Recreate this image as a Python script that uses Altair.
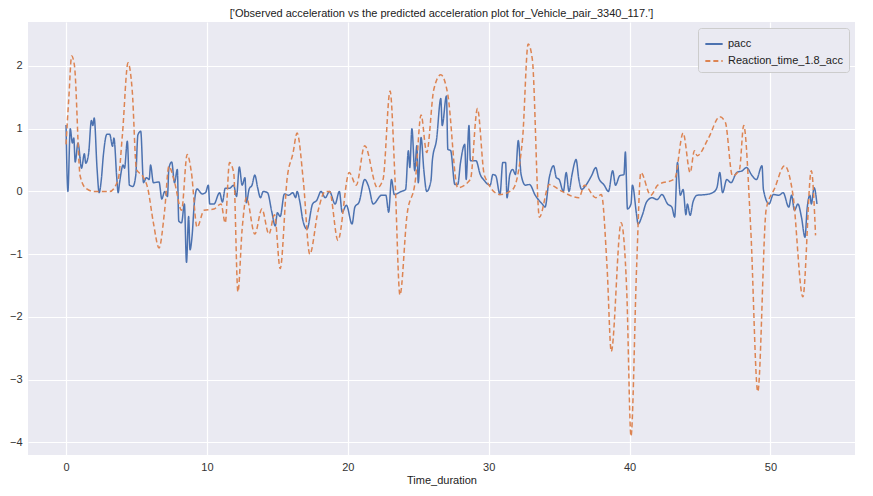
import altair as alt
import pandas as pd

# Observed acceleration (pacc)
pacc_t = [0, 0.13, 0.3, 0.45, 0.55, 0.65, 0.85, 1.1, 1.3, 1.4, 1.6, 1.8, 1.9, 2.0, 2.2, 2.35, 2.5,
          2.65, 2.9, 3.1, 3.3, 3.4, 3.6, 3.7, 3.8, 4.05, 4.15, 4.35, 4.5, 4.75, 4.95, 5.1, 5.3, 5.5,
          5.7, 5.9, 6.0, 6.2, 6.6, 6.8, 7.0, 7.2, 7.3, 7.5, 7.7, 7.9, 8.0, 8.2, 8.4, 8.55, 8.7, 8.8,
          8.95, 9.1, 9.3, 9.55, 9.65, 9.9, 10.1, 10.2, 10.5, 10.9, 11.1, 11.3, 11.6, 11.9, 12.1,
          12.3, 12.5, 12.7, 12.8, 13.0, 13.2, 13.4, 13.6, 13.8, 14.0, 14.3, 14.6, 14.85, 15.0, 15.2,
          15.5, 15.8, 16.1, 16.3, 16.4, 16.6, 16.8, 17.1, 17.5, 17.8, 18.1, 18.4, 18.7, 19.1, 19.4,
          19.6, 19.9, 20.3, 20.5, 20.8, 21.2, 21.5, 21.8, 22.4, 22.7, 22.9, 23.1, 23.3, 23.8, 24.1,
          24.3, 24.4, 24.55, 24.75, 24.9, 25.0, 25.2, 25.4, 25.6, 25.9, 26.0, 26.3, 26.6, 26.7,
          27.0, 27.1, 27.3, 27.6, 27.8, 28.0, 28.3, 28.4, 28.6, 28.7, 29.1, 29.4, 29.7, 30.1, 30.3,
          30.5, 30.8, 31.0, 31.2, 31.3, 31.5, 31.7, 31.9, 32.1, 32.3, 32.6, 32.9, 33.3, 33.8, 34.0,
          34.3, 34.6, 34.8, 35.0, 35.3, 35.5, 35.7, 35.9, 36.1, 36.2, 36.4, 36.6, 36.9, 37.3, 37.6,
          37.8, 38.2, 38.5, 38.8, 39.0, 39.3, 39.6, 39.7, 39.85, 40.1, 40.2, 40.5, 40.6, 40.9, 41.2,
          41.6, 41.95, 42.3, 42.7, 43.0, 43.2, 43.4, 43.6, 43.8, 44.0, 44.1, 44.3, 44.5, 44.8, 45.4,
          45.9, 46.2, 46.4, 46.6, 46.9, 47.2, 47.6, 48.0, 48.3, 48.7, 49.0, 49.4, 49.5, 49.9, 50.2,
          50.6, 50.9, 51.3, 51.5, 51.7, 51.95, 52.2, 52.45, 52.6, 52.8, 52.9, 53.1, 53.3]
pacc_v = [1.06, 0.0, 1.0, 0.77, 0.85, 0.47, 0.77, 0.37, 0.6, 0.45, 0.6, 1.13, 1.05, 1.17, 0.37, -0.02, 0.18,
          0.58, 0.91, 0.91, 0.72, 0.85, 0.22, -0.02, 0.14, 0.42, 0.37, 0.8, 0.1, 0.08, 0.26, 0.9, 0.96, 0.14,
          0.22, 0.19, 0.42, 0.14, 0.15, -0.12, 0.0, -0.08, 0.37, 0.47, 0.14, 0.35, -0.47, -0.5, -0.2, -1.13, -0.4, -0.93,
          -0.7, -0.2, 0.04, -0.02, -0.04, -0.02, 0.1, -0.2, -0.2, -0.02, -0.17, 0.05, 0.05, 0.1, -0.08,
          0.39, 0.1, 0.22, -0.18, 0.04, 0.1, 0.26, 0.06, -0.1, 0.0, -0.02, -0.32, -0.55, -0.34, -0.4,
          -0.04, -0.06, -0.02, -0.1, 0.0, -0.17, -0.45, -0.6, -0.2, -0.14, 0.0, -0.1, 0.0, -0.2, 0.0,
          -0.33, -0.22, -0.52, -0.25, -0.17, 0.19, 0.06, -0.2, -0.06, -0.06, -0.33, 0.19, -0.05, 0.0, 0.03,
          0.65, 0.38, 1.0, 0.33, 0.73, 0.14, 0.86, 0.33, 0.0, 0.17, 0.49, 0.83, 1.48, 1.05,
          1.52, 0.67, 0.65, 0.11, 0.11, 0.46, 0.75, 0.19, 1.05, 0.49, 0.49, 0.27, 0.17, 0.1, 0.27,
          0.25, -0.05, 0.46, 0.46, -0.1, 0.27, 0.35, 0.27, 0.81, 0.27, 0.1, 0.11, -0.06, -0.2, -0.25,
          0.22, 0.41, 0.22, 0.19, 0.0, 0.3, 0.0, 0.25, 0.46, 0.51, 0.19, 0.03, 0.1, 0.25, 0.38,
          0.22, 0.1, 0.0, 0.33, 0.1, 0.25, 0.27, 0.63, -0.28, -0.2, 0.1, -0.38, -0.52, -0.38, -0.17,
          -0.1, -0.13, -0.05, -0.2, -0.25, -0.41, 0.46, -0.06, 0.03, -0.37, -0.2, -0.38, -0.17, -0.06, -0.05,
          -0.02, 0.06, 0.3, -0.02, 0.19, 0.14, 0.3, 0.33, 0.38, 0.25, 0.19, 0.41, 0.03, -0.2, -0.05,
          -0.06, -0.02, -0.25, -0.06, -0.3, -0.2, -0.41, -0.73, -0.28, -0.06, -0.2, 0.06, -0.2]

# Predicted acceleration, reaction time 1.8
pred_t = [0, 0.2, 0.4, 0.6, 1.0, 1.4, 2.0, 3.1, 3.7, 4.0, 4.4, 4.7, 5.0, 5.45, 5.8, 6.2, 6.6, 7.0, 7.3,
          7.7, 8.2, 8.6, 8.9, 9.3, 9.8, 10.5, 11.0, 11.3, 11.6, 11.9, 12.2, 12.5, 12.8, 13.4, 13.9,
          14.4, 14.8, 15.2, 15.7, 16.1, 16.4, 16.85, 17.3, 17.9, 18.4, 18.7, 19.3, 20.1, 20.6, 21.2,
          22.1, 22.5, 23.0, 23.35, 23.7, 24.2, 24.8, 25.2, 25.6, 26.1, 26.6, 27.1, 27.8, 28.7, 29.2,
          29.7, 30.8, 31.7, 32.4, 32.8, 33.1, 33.6, 34.3, 35.2, 36.4, 36.8, 37.6, 38.0, 38.4, 38.7,
          39.4, 39.8, 40.1, 40.5, 40.8, 41.5, 42.0, 43.2, 43.8, 44.3, 44.6, 44.8, 45.6, 46.4, 46.8,
          47.3, 47.8, 48.1, 48.6, 49.1, 49.7, 50.3, 51.0, 51.6, 52.3, 52.9, 53.2]
pred_v = [0.75, 1.5, 2.16, 2.0, 0.25, 0.05, 0.0, 0.0, 0.19, 0.9, 2.05, 1.6, 0.35, 0.24, 0.05, -0.5, -0.9, -0.3, 0.4,
          0.15, -0.3, 0.59, 0.3, -0.57, -0.3, -0.28, -0.2, -0.5, 0.46, 0.3, -1.6, -0.6, -0.1, -0.68, -0.28,
          -0.68, -0.37, -1.23, 0.22, 0.6, 0.93, 0.15, -1.0, -0.3, 0.0, 0.0, -0.78, 0.3, 0.1, 0.73,
          0.06, 0.19, 1.6, 0.2, -1.65, -0.38, 0.19, 1.22, 0.62, 1.62, 1.86, 1.54, 0.06, 0.19, 1.32,
          0.25, -0.05, 0.03, 0.83, 2.35, 2.1, -0.41, 0.11, 0.0, -0.1, 0.1, -0.1, -0.05, -1.2, -2.55,
          -0.5, -1.6, -3.9, -1.2, 0.3, -0.06, 0.1, 0.2, 0.93, 0.3, 0.65, 0.57, 0.85, 1.19, 1.1,
          0.25, 0.35, 1.05, -0.6, -3.19, -0.28, 0.05, 0.41, -0.06, -1.68, 0.33, -0.7]

df = pd.concat([
    pd.DataFrame({"Time_duration": pacc_t, "value": pacc_v, "series": "pacc"}),
    pd.DataFrame({"Time_duration": pred_t, "value": pred_v, "series": "Reaction_time_1.8_acc"}),
])

order = ["pacc", "Reaction_time_1.8_acc"]
FONT = "Liberation Sans"

chart = (
    alt.Chart(df)
    .mark_line(strokeWidth=1.5, interpolate="monotone")
    .encode(
        alt.X("Time_duration:Q", title="Time_duration",
              scale=alt.Scale(domain=[-2.7, 56], nice=False),
              axis=alt.Axis(values=[0, 10, 20, 30, 40, 50])),
        alt.Y("value:Q", title=None,
              scale=alt.Scale(domain=[-4.2, 2.7], nice=False),
              axis=alt.Axis(values=[-4, -3, -2, -1, 0, 1, 2])),
        alt.Color("series:N", sort=order, title=None,
                  scale=alt.Scale(domain=order, range=["#4C72B0", "#DD8452"]),
                  legend=alt.Legend(orient="top-right", symbolType="stroke",
                                    fillColor="#EAEAF2", strokeColor="#cccccc",
                                    padding=6, cornerRadius=3, labelFontSize=11,
                                    labelFont=FONT, labelColor="#222222",
                                    symbolStrokeWidth=2, symbolSize=300, offset=6)),
        alt.StrokeDash("series:N", sort=order, legend=None,
                       scale=alt.Scale(domain=order, range=[[1, 0], [5, 3]])),
        order=alt.Order("Time_duration:Q"),
    )
    .properties(
        width=827, height=433, autosize="none",
        padding={"left": 20, "top": 14, "right": 10, "bottom": 33},
        title=alt.Title("['Observed acceleration vs the predicted acceleration plot for_Vehicle_pair_3340_117.']",
                        fontSize=11, fontWeight="normal", color="#222222", offset=3, font=FONT),
    )
    .configure_view(fill="#EAEAF2", stroke=None)
    .configure_axis(grid=True, gridColor="white", gridWidth=1.2, domain=False, ticks=False,
                    labelColor="#333333", labelFontSize=11, titleFontSize=11, labelFont=FONT,
                    titleFont=FONT, titleFontWeight="normal", titleColor="#222222",
                    labelPadding=6, titlePadding=2)
)

chart.save("out.html", embed_options={"renderer": "svg", "actions": False})
